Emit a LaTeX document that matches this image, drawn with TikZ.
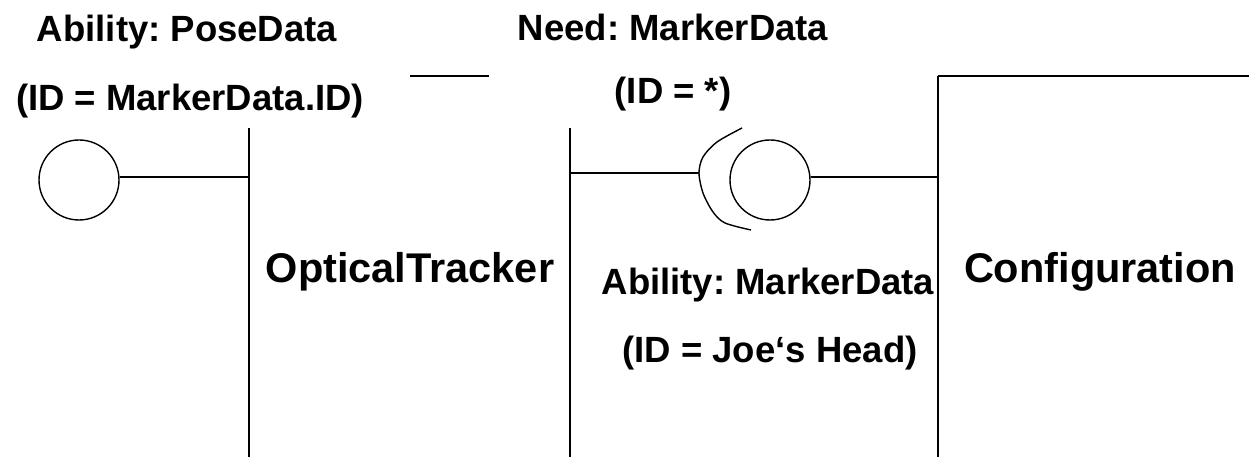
\documentclass[tikz,border=0pt]{standalone}
\usepackage{fontspec}
\setmainfont{Liberation Sans}
\frenchspacing
\begin{document}
\begin{tikzpicture}[x=1bp,y=-1bp,
  stroke/.style={line width=1.6bp, draw=black},
  small/.style={anchor=base, inner sep=0pt, font=\bfseries\fontsize{36.5bp}{40bp}\selectfont},
  big/.style={anchor=base, inner sep=0pt, font=\bfseries\fontsize{41.5bp}{46bp}\selectfont},
  lolli/.style={circle, draw=black, line width=1.4bp, minimum size=80bp, inner sep=0pt}]
\useasboundingbox (0,0) rectangle (1249,457);
% component borders
\draw[stroke] (249,128) -- (249,457);
\draw[stroke] (570,128) -- (570,457);
\draw[stroke] (938,76) -- (938,457) ;
\draw[stroke] (938,76) -- (1249,76);
\draw[stroke] (410,76) -- (489,76);
% anchor points on borders
\coordinate (otL) at (249,177);
\coordinate (otR) at (570,173);
\coordinate (cfL) at (938,177);
\coordinate (sockL) at (699,173);
% provided interface (PoseData)
\node[lolli] (pose) at (79,180) {};
\draw[stroke] (pose.east |- otL) -- (otL);
% socket (needed MarkerData)
\draw[stroke] (otR) -- (sockL);
\draw[line width=1.4bp] plot[smooth] coordinates {(742,128) (717,142) (703,157) (sockL) (703,193) (713,212) (725,223) (751,230)};
% provided interface (MarkerData) of Configuration
\node[lolli] (marker) at (770,180) {};
\draw[stroke] (marker.east |- cfL) -- (cfL);
% labels
\node[small] (abpose) at (187,42) {Ability: PoseData};
\node[small] (idpose) at (190,111) {(ID = MarkerData.ID)};
\node[small] (need) at (673,41) {Need: MarkerData};
\node[small] (idneed) at (673,104) {(ID = *)};
\node[big] (ot) at (410,283) {OpticalTracker};
\node[big] (cfg) at (1100,283) {Configuration};
\node[small] (abmark) at (768,295) {Ability: MarkerData};
\node[small] (idmark) at (770,363) {(ID = Joe‘s Head)};
\end{tikzpicture}
\end{document}
